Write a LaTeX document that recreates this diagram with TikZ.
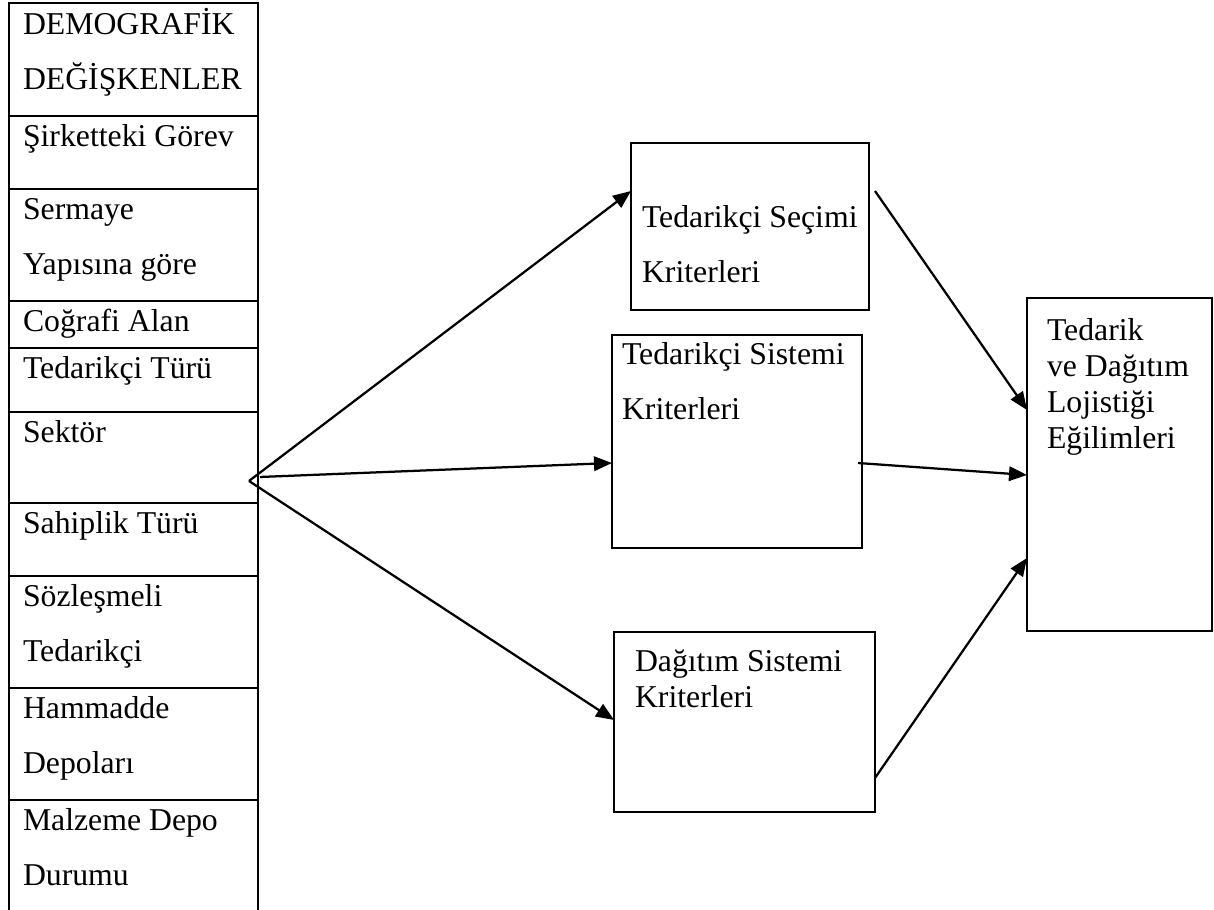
\documentclass[tikz,border=0pt]{standalone}
\usepackage{fontspec}
\setmainfont{Liberation Serif}
\usetikzlibrary{arrows.meta,fit,calc}

\begin{document}
\begin{tikzpicture}[x=0.4pt,y=-0.4pt,
  rule/.style={draw=black,line width=0.9pt},
  box/.style={draw=black,line width=0.9pt,rectangle,inner sep=0pt,outer sep=0pt},
  txt/.style={anchor=base west,inner sep=0pt,outer sep=0pt,font=\fontsize{12.7}{15}\selectfont},
  link/.style={draw=black,line width=0.9pt,-{Triangle[length=7.2pt,width=5.8pt]}}]
\useasboundingbox (0,0) rectangle (1214,910);

% left table of demographic variables (open at the bottom)
\draw[rule] (9,910) -- (9,3) -- (258,3) -- (258,910);
\foreach \y in {116,189,301,348,412,503,576,688,800}
  \draw[rule] (9,\y) -- (258,\y);

\node[txt] (t1a) at (23,35)  {DEMOGRAFİK};
\node[txt] (t1b) at (23,90)  {DEĞİŞKENLER};
\node[txt] (t2)  at (23,147) {Şirketteki Görev};
\node[txt] (t3a) at (23,220) {Sermaye};
\node[txt] (t3b) at (23,275) {Yapısına göre};
\node[txt] (t4)  at (23,332) {Coğrafi Alan};
\node[txt] (t5)  at (23,379) {Tedarikçi Türü};
\node[txt] (t6)  at (23,443) {Sektör};
\node[txt] (t7)  at (23,534) {Sahiplik Türü};
\node[txt] (t8a) at (23,607) {Sözleşmeli};
\node[txt] (t8b) at (23,662) {Tedarikçi};
\node[txt] (t9a) at (23,719) {Hammadde};
\node[txt] (t9b) at (23,774) {Depoları};
\node[txt] (t10a) at (23,831) {Malzeme Depo};
\node[txt] (t10b) at (23,886) {Durumu};

% criteria boxes and outcome box
\node[box,fit={(631,143) (869,310)}]  (s1) {};
\node[box,fit={(612,335) (862,548)}]  (s2) {};
\node[box,fit={(614,632) (875,812)}]  (s3) {};
\node[box,fit={(1027,298) (1212,631)}] (s4) {};

\node[txt] (s1a) at (642,228) {Tedarikçi Seçimi};
\node[txt] (s1b) at (642,283) {Kriterleri};
\node[txt] (s2a) at (622,365) {Tedarikçi Sistemi};
\node[txt] (s2b) at (622,420) {Kriterleri};
\node[txt] (s3a) at (635,672) {Dağıtım Sistemi};
\node[txt] (s3b) at (635,708) {Kriterleri};
\node[txt] (s4a) at (1047,341) {Tedarik};
\node[txt] (s4b) at (1047,377) {ve Dağıtım};
\node[txt] (s4c) at (1047,413) {Lojistiği};
\node[txt] (s4d) at (1047,449) {Eğilimleri};

% connector end points
\coordinate (apex) at (249,481);
\coordinate (mid)  at (260,477);
\coordinate (in1)  at (s1.west |- 0,191);
\coordinate (in2)  at (s2.west |- 0,463);
\coordinate (in3)  at (s3.west |- 0,720);
\coordinate (out1) at ($(s1.east |- 0,191)+(6,0)$);
\coordinate (out2) at ($(s2.east |- 0,463)+(-4,0)$);
\coordinate (out3) at (s3.east |- 0,778);
\coordinate (to1)  at (s4.west |- 0,410);
\coordinate (to2)  at (s4.west |- 0,475);
\coordinate (to3)  at (s4.west |- 0,558);

\draw[link] (apex) -- (in1);
\draw[link] (mid)  -- (in2);
\draw[link] (apex) -- (in3);
\draw[link] (out1) -- (to1);
\draw[link] (out2) -- (to2);
\draw[link] (out3) -- (to3);
\end{tikzpicture}
\end{document}
